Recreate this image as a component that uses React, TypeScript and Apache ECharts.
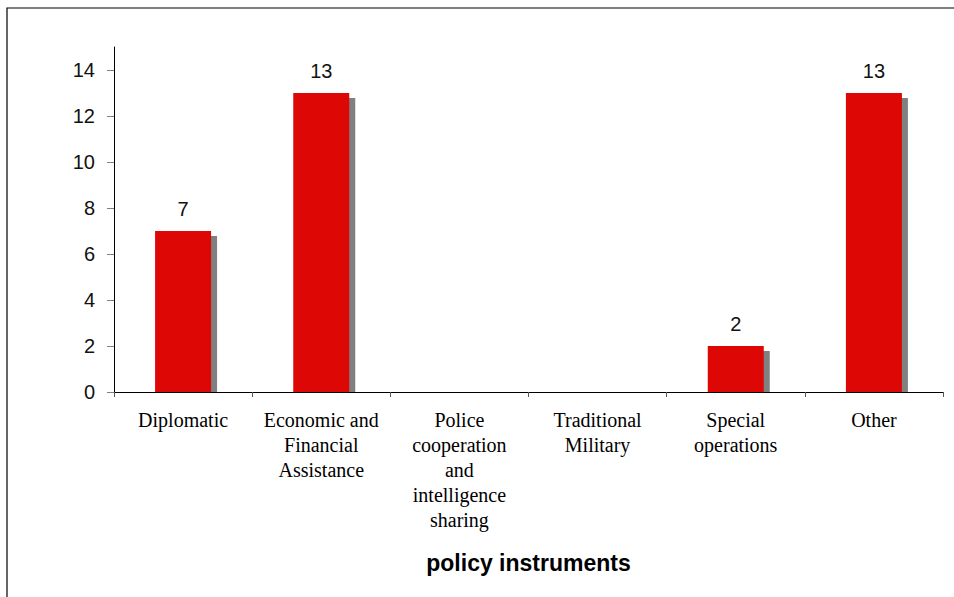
import React, { useEffect, useRef } from "react";
import * as echarts from "echarts";

const categories: string[] = [
  "Diplomatic",
  "Economic and\nFinancial\nAssistance",
  "Police\ncooperation\nand\nintelligence\nsharing",
  "Traditional\nMilitary",
  "Special\noperations",
  "Other",
];
const values: number[] = [7, 13, 0, 0, 2, 13];
const yTicks: number[] = [0, 2, 4, 6, 8, 10, 12, 14];
const axisTitle = "policy instruments";

export default function App() {
  const ref = useRef<HTMLDivElement>(null);
  useEffect(() => {
    document.body.style.margin = "0";
    if (!ref.current) return;
    const chart = echarts.init(ref.current, null, { renderer: "svg" });
    const BAR_W = 56;
    chart.setOption({
      animation: false,
      backgroundColor: "#ffffff",
      grid: { left: 114, right: 11, top: 47, bottom: 205, containLabel: false },
      graphic: [
        {
          type: "rect",
          shape: { x: 7, y: 8, width: 1000, height: 700 },
          style: { fill: "none", stroke: "#000", lineWidth: 1.2 },
          silent: true,
          z: -10,
        },
      ],
      xAxis: {
        type: "category",
        data: categories,
        boundaryGap: true,
        name: axisTitle,
        nameLocation: "middle",
        nameGap: 159,
        nameTextStyle: {
          fontFamily: "Liberation Sans, Arial, sans-serif",
          fontWeight: "bold",
          fontSize: 23,
          color: "#000",
        },
        axisLine: { show: true, lineStyle: { color: "#000", width: 1 } },
        axisTick: { show: true, length: 5, lineStyle: { color: "#555" } },
        axisLabel: {
          interval: 0,
          margin: 15,
          fontFamily: "Liberation Serif, Times New Roman, serif",
          fontSize: 20,
          lineHeight: 25,
          color: "#000",
        },
        splitLine: { show: false },
      },
      yAxis: {
        type: "value",
        min: 0,
        max: 15,
        interval: 1,
        axisLine: { show: true, lineStyle: { color: "#000", width: 1 } },
        axisTick: { show: true, length: 7, lineStyle: { color: "#808080" }, customValues: yTicks },
        axisLabel: {
          customValues: yTicks,
          margin: 19,
          fontFamily: "Liberation Sans, Arial, sans-serif",
          fontSize: 20,
          color: "#111",
          formatter: (v: number) => (yTicks.indexOf(v) >= 0 ? String(v) : ""),
        },
        splitLine: { show: false },
      },
      series: [
        {
          type: "custom",
          z: 1,
          silent: true,
          encode: { x: 0, y: 1 },
          data: values.map((v, i) => [i, v]),
          renderItem: (params: any, api: any) => {
            const v = api.value(1);
            if (!v) return null;
            const top = api.coord([api.value(0), v]);
            const base = api.coord([api.value(0), 0]);
            return {
              type: "rect",
              shape: {
                x: top[0] - BAR_W / 2 + 6,
                y: top[1] + 5,
                width: BAR_W,
                height: base[1] - top[1] - 5,
              },
              style: { fill: "#808080" },
            };
          },
        },
        {
          type: "bar",
          z: 2,
          data: values,
          barWidth: BAR_W,
          itemStyle: { color: "#DD0806" },
          label: {
            show: true,
            position: "top",
            distance: 12,
            fontFamily: "Liberation Sans, Arial, sans-serif",
            fontSize: 20,
            color: "#111",
            formatter: (p: any) => (p.value ? String(p.value) : ""),
          },
        },
      ],
    });
    return () => chart.dispose();
  }, []);
  return <div ref={ref} style={{ width: 954, height: 597 }} />;
}
